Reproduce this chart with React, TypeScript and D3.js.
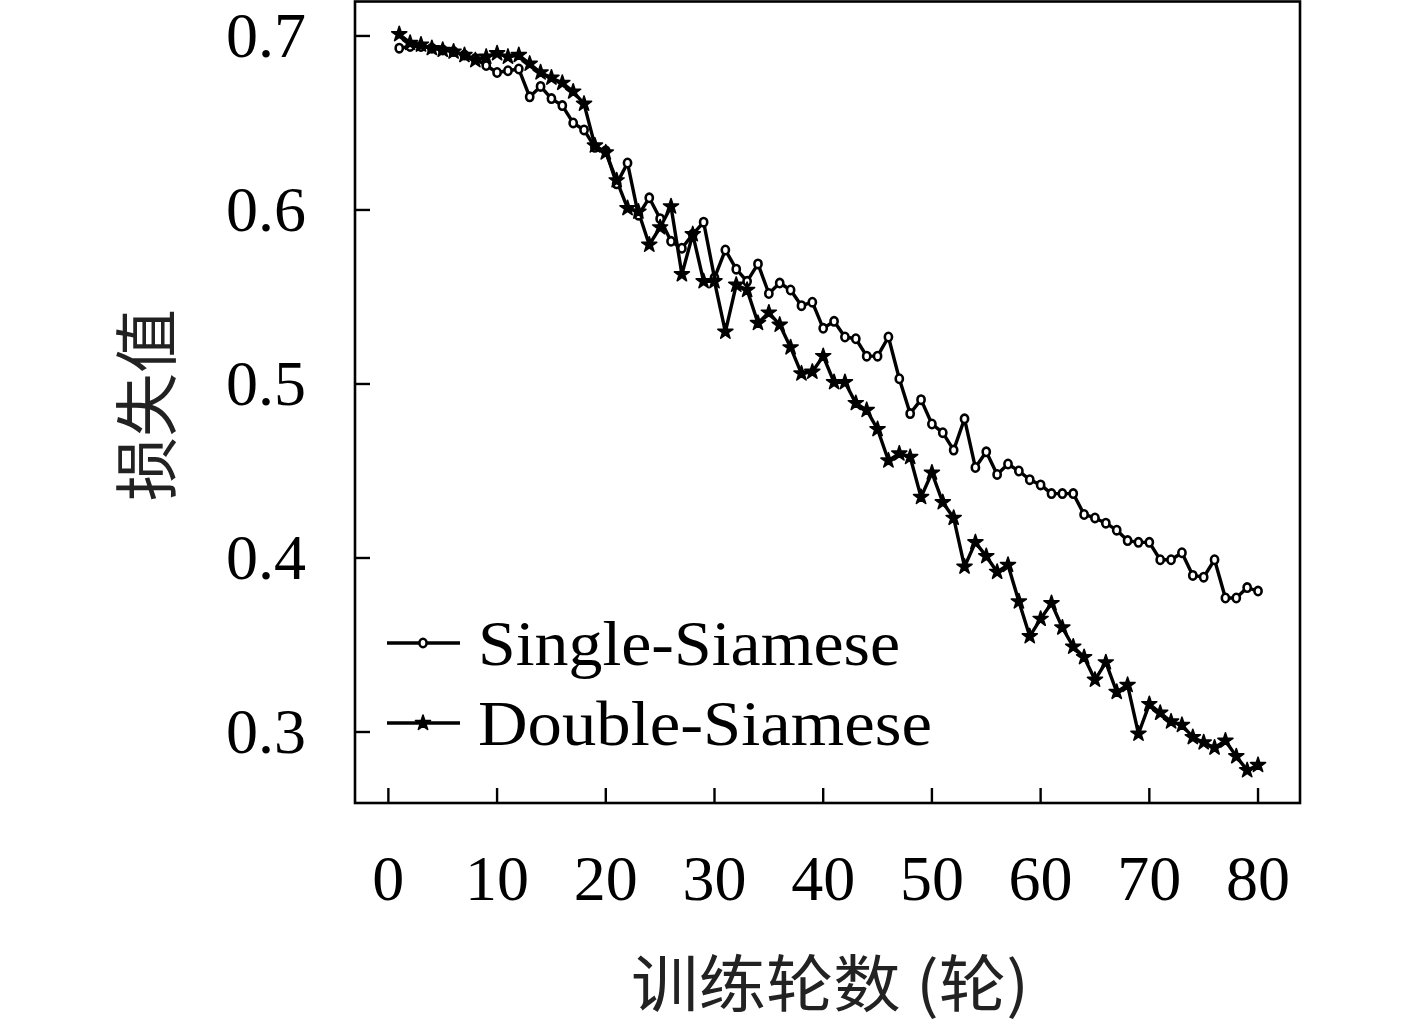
import * as d3 from 'd3';

const epochs: number[] = d3.range(1, 81);

const singleLoss: number[] = [
  0.693, 0.694, 0.694, 0.693, 0.692, 0.691, 0.689, 0.687, 0.683, 0.679,
  0.680, 0.681, 0.665, 0.671, 0.664, 0.660, 0.650, 0.646, 0.636, 0.634,
  0.615, 0.627, 0.597, 0.607, 0.595, 0.582, 0.578, 0.586, 0.593, 0.561,
  0.577, 0.566, 0.559, 0.569, 0.552, 0.558, 0.554, 0.545, 0.547, 0.532,
  0.536, 0.527, 0.526, 0.516, 0.516, 0.527, 0.503, 0.483, 0.491, 0.477,
  0.472, 0.462, 0.480, 0.452, 0.461, 0.448, 0.454, 0.450, 0.445, 0.442,
  0.437, 0.437, 0.437, 0.425, 0.423, 0.420, 0.416, 0.410, 0.409, 0.409,
  0.399, 0.399, 0.403, 0.390, 0.389, 0.399, 0.377, 0.377, 0.383, 0.381,
];

const doubleLoss: number[] = [
  0.701, 0.696, 0.695, 0.693, 0.692, 0.691, 0.689, 0.686, 0.688, 0.690,
  0.688, 0.689, 0.684, 0.679, 0.676, 0.673, 0.668, 0.661, 0.637, 0.633,
  0.617, 0.601, 0.599, 0.580, 0.590, 0.602, 0.563, 0.586, 0.559, 0.559,
  0.530, 0.557, 0.554, 0.535, 0.541, 0.534, 0.521, 0.506, 0.507, 0.516,
  0.501, 0.501, 0.489, 0.485, 0.474, 0.456, 0.460, 0.458, 0.435, 0.449,
  0.432, 0.423, 0.395, 0.409, 0.401, 0.392, 0.396, 0.375, 0.355, 0.365,
  0.374, 0.360, 0.349, 0.343, 0.330, 0.340, 0.323, 0.327, 0.299, 0.316,
  0.311, 0.306, 0.304, 0.297, 0.294, 0.291, 0.295, 0.286, 0.278, 0.281,
];

const xTicks: number[] = [0, 10, 20, 30, 40, 50, 60, 70, 80];
const yTicks: number[] = [0.3, 0.4, 0.5, 0.6, 0.7];
const seriesNames: string[] = ['Single-Siamese', 'Double-Siamese'];
const xLabel = '训练轮数 (轮)';
const yLabel = '损失值';

const W = 1417;
const H = 1025;
const box = { left: 355, right: 1300, top: 1.5, bottom: 803 };

const serif = '"Liberation Serif", "DejaVu Serif", serif';
const cjk = '"Noto Sans CJK SC", sans-serif';

const App = () => {
  const x = d3.scaleLinear().domain([-3.07, 83.86]).range([box.left, box.right]);
  const y = d3.scaleLinear().domain([0.2592, 0.7198]).range([box.bottom, box.top]);

  const line = d3.line<number>()
    .x((d, i) => x(epochs[i]))
    .y(d => y(d));

  const star = d3.symbol().type(d3.symbolStar).size(70)() || '';

  const tickLen = 15;

  // hollow circle marker (Single) and filled star marker (Double)
  const circleMark = (cx: number, cy: number, key: string) => (
    <ellipse key={key} cx={cx} cy={cy} rx={3.6} ry={4.2} fill="white" stroke="black" strokeWidth={2.6} />
  );
  const starMark = (cx: number, cy: number, key: string) => (
    <path key={key} d={star} transform={`translate(${cx},${cy})`} fill="black" stroke="black" strokeWidth={1.6} strokeLinejoin="round" />
  );

  const legendY = [643, 723];

  return (
    <svg width={W} height={H} style={{ position: 'absolute', left: 0, top: 0, background: 'white' }}>
      <rect x={0} y={0} width={W} height={H} fill="white" />

      {/* data lines */}
      <path d={line(singleLoss) || ''} fill="none" stroke="black" strokeWidth={3.4} strokeLinejoin="round" />
      <path d={line(doubleLoss) || ''} fill="none" stroke="black" strokeWidth={3.4} strokeLinejoin="round" />
      {singleLoss.map((v, i) => circleMark(x(epochs[i]), y(v), `s${i}`))}
      {doubleLoss.map((v, i) => starMark(x(epochs[i]), y(v), `d${i}`))}

      {/* axes box */}
      <rect x={box.left} y={box.top} width={box.right - box.left} height={box.bottom - box.top}
        fill="none" stroke="black" strokeWidth={2.6} />

      {/* x ticks */}
      {xTicks.map(t => (
        <g key={`xt${t}`}>
          <line x1={x(t)} x2={x(t)} y1={box.bottom} y2={box.bottom - tickLen} stroke="black" strokeWidth={2.4} />
          <text x={x(t)} y={900} textAnchor="middle" fontFamily={serif} fontSize={64}>{t}</text>
        </g>
      ))}

      {/* y ticks */}
      {yTicks.map(t => (
        <g key={`yt${t}`}>
          <line x1={box.left} x2={box.left + tickLen} y1={y(t)} y2={y(t)} stroke="black" strokeWidth={2.4} />
          <text x={306} y={y(t) + 21} textAnchor="end" fontFamily={serif} fontSize={64}>{t.toFixed(1)}</text>
        </g>
      ))}

      {/* axis labels */}
      <text x={830} y={1007} textAnchor="middle" fontFamily={cjk} fontSize={62} fill="#222"
        textLength={398} lengthAdjust="spacingAndGlyphs">{xLabel}</text>
      <text transform="translate(170,405) rotate(-90)" textAnchor="middle" fontFamily={cjk} fontSize={64} fill="#222">{yLabel}</text>

      {/* legend */}
      {seriesNames.map((name, i) => (
        <g key={name}>
          <line x1={387} x2={460} y1={legendY[i]} y2={legendY[i]} stroke="black" strokeWidth={3.4} />
          {i === 0 ? circleMark(423, legendY[i], 'lc') : starMark(423, legendY[i], 'ls')}
          <text x={478} y={legendY[i] + 22} fontFamily={serif} fontSize={64}
            textLength={i === 0 ? 422 : 454} lengthAdjust="spacingAndGlyphs">{name}</text>
        </g>
      ))}
    </svg>
  );
};

export default App;
